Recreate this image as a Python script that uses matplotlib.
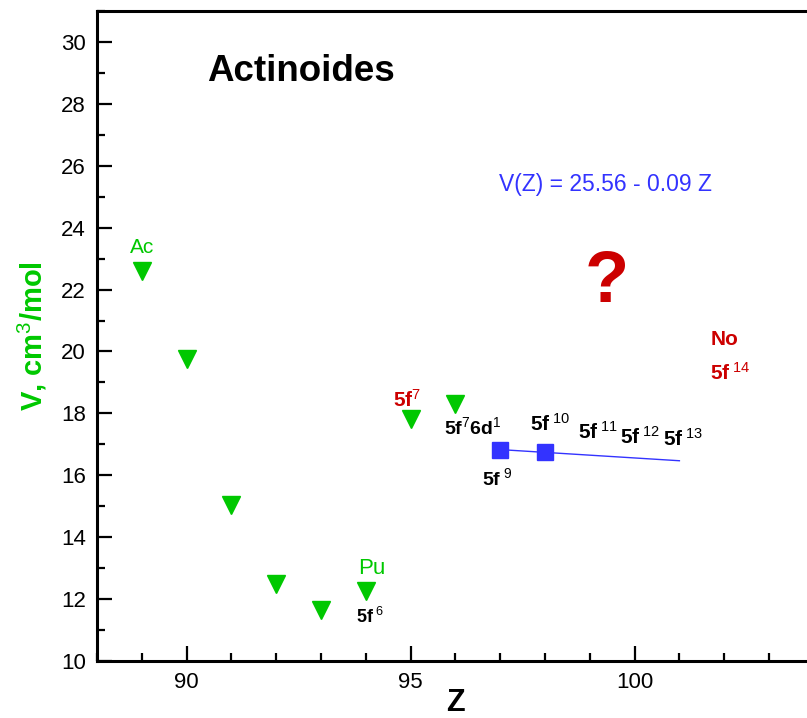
import numpy as np
import matplotlib
matplotlib.use("Agg")
import matplotlib.pyplot as plt
from matplotlib.ticker import MultipleLocator, FixedLocator

plt.rcParams['font.family'] = ['Liberation Sans', 'DejaVu Sans']
plt.rcParams['mathtext.fontset'] = 'custom'
plt.rcParams['mathtext.rm'] = 'Liberation Sans'
plt.rcParams['mathtext.bf'] = 'Liberation Sans:bold'
plt.rcParams['mathtext.it'] = 'Liberation Sans:italic'

# molar volumes of the actinoides, Ac..Cm (triangles) and Bk, Cf (squares)
z_tri = [89, 90, 91, 92, 93, 94, 95, 96]
v_tri = [22.6, 19.75, 15.05, 12.5, 11.65, 12.27, 17.82, 18.3]
z_sq = [97, 98]
v_sq = [16.83, 16.74]

# linear fit V(Z) = a + b*Z, drawn from Bk to Md
fit_a = 25.56
fit_b = -0.09
z_fit = [97, 101]

GREEN = '#00c800'
RED = '#cc0000'
BLUE = '#3333ff'

fig = plt.figure(figsize=(8.07, 7.18), dpi=100)
ax = fig.add_axes([97 / 807, 57 / 718, 716.8 / 807, 650 / 718])

ax.plot(z_tri, v_tri, 'v', color=GREEN, ms=12.5, mec=GREEN)
v_fit = [fit_a + fit_b * z for z in z_fit]
ax.plot(z_fit, v_fit, '-', color=BLUE, lw=1.0)
ax.plot(z_sq, v_sq, 's', color=BLUE, ms=11, mec=BLUE)

ax.set_xlim(88, 104)
ax.set_ylim(10, 31)
ax.xaxis.set_major_locator(FixedLocator([90, 95, 100]))
ax.xaxis.set_minor_locator(MultipleLocator(1))
ax.yaxis.set_major_locator(FixedLocator(np.arange(10, 31, 2)))
ax.yaxis.set_minor_locator(MultipleLocator(1))

ax.tick_params(which='both', direction='in', top=False, right=False,
               labelsize=16, width=1.6, pad=8)
ax.tick_params(which='major', length=11)
ax.tick_params(which='minor', length=6)
for side in ('left', 'bottom', 'top'):
    ax.spines[side].set_linewidth(2.2)
ax.spines['right'].set_visible(False)

ax.set_xlabel('Z', fontsize=22, fontweight='bold', labelpad=-4)
ax.set_ylabel(r'V, cm$^{3}$/mol', fontsize=21, fontweight='bold',
              color=GREEN, labelpad=9)

ax.text(92.55, 29.03, 'Actinoides', fontsize=26.5, fontweight='bold',
        ha='center', va='center')
ax.text(99.34, 25.4, 'V(Z) = 25.56 - 0.09 Z', fontsize=16.5, color=BLUE,
        ha='center', va='center')
ax.text(99.38, 22.2, '?', fontsize=52, fontweight='bold', color=RED,
        ha='center', va='center')
ax.text(102.0, 20.4, 'No', fontsize=15, fontweight='bold', color=RED,
        ha='center', va='center')
ax.text(102.13, 19.3, r'$\mathbf{5f}^{\ \mathrm{14}}$', fontsize=15,
        color=RED, ha='center', va='center')

ax.text(89.0, 23.36, 'Ac', fontsize=15, color=GREEN,
        ha='center', va='center')
ax.text(94.14, 12.98, 'Pu', fontsize=16, color=GREEN,
        ha='center', va='center')
ax.text(94.1, 11.42, r'$\mathbf{5f}^{\ \mathrm{6}}$', fontsize=13,
        ha='center', va='center')
ax.text(94.92, 18.45, r'$\mathbf{5f}^{\mathrm{7}}$', fontsize=15,
        color=RED, ha='center', va='center')
ax.text(96.39, 17.57, r'$\mathbf{5f}^{\mathrm{7}}\mathbf{6d}^{\mathrm{1}}$',
        fontsize=14, ha='center', va='center')
ax.text(96.93, 15.92, r'$\mathbf{5f}^{\ \mathrm{9}}$', fontsize=14,
        ha='center', va='center')

# configurations of Cf..Md above the fit line
cfg_z = [98.11, 99.18, 100.12, 101.08]
cfg_v = [17.67, 17.41, 17.25, 17.18]
cfg_n = ['10', '11', '12', '13']
for zc, vc, n in zip(cfg_z, cfg_v, cfg_n):
    ax.text(zc, vc, r'$\mathbf{5f}^{\ \mathrm{%s}}$' % n, fontsize=15,
            ha='center', va='center')

fig.savefig('out.png', dpi=100)
